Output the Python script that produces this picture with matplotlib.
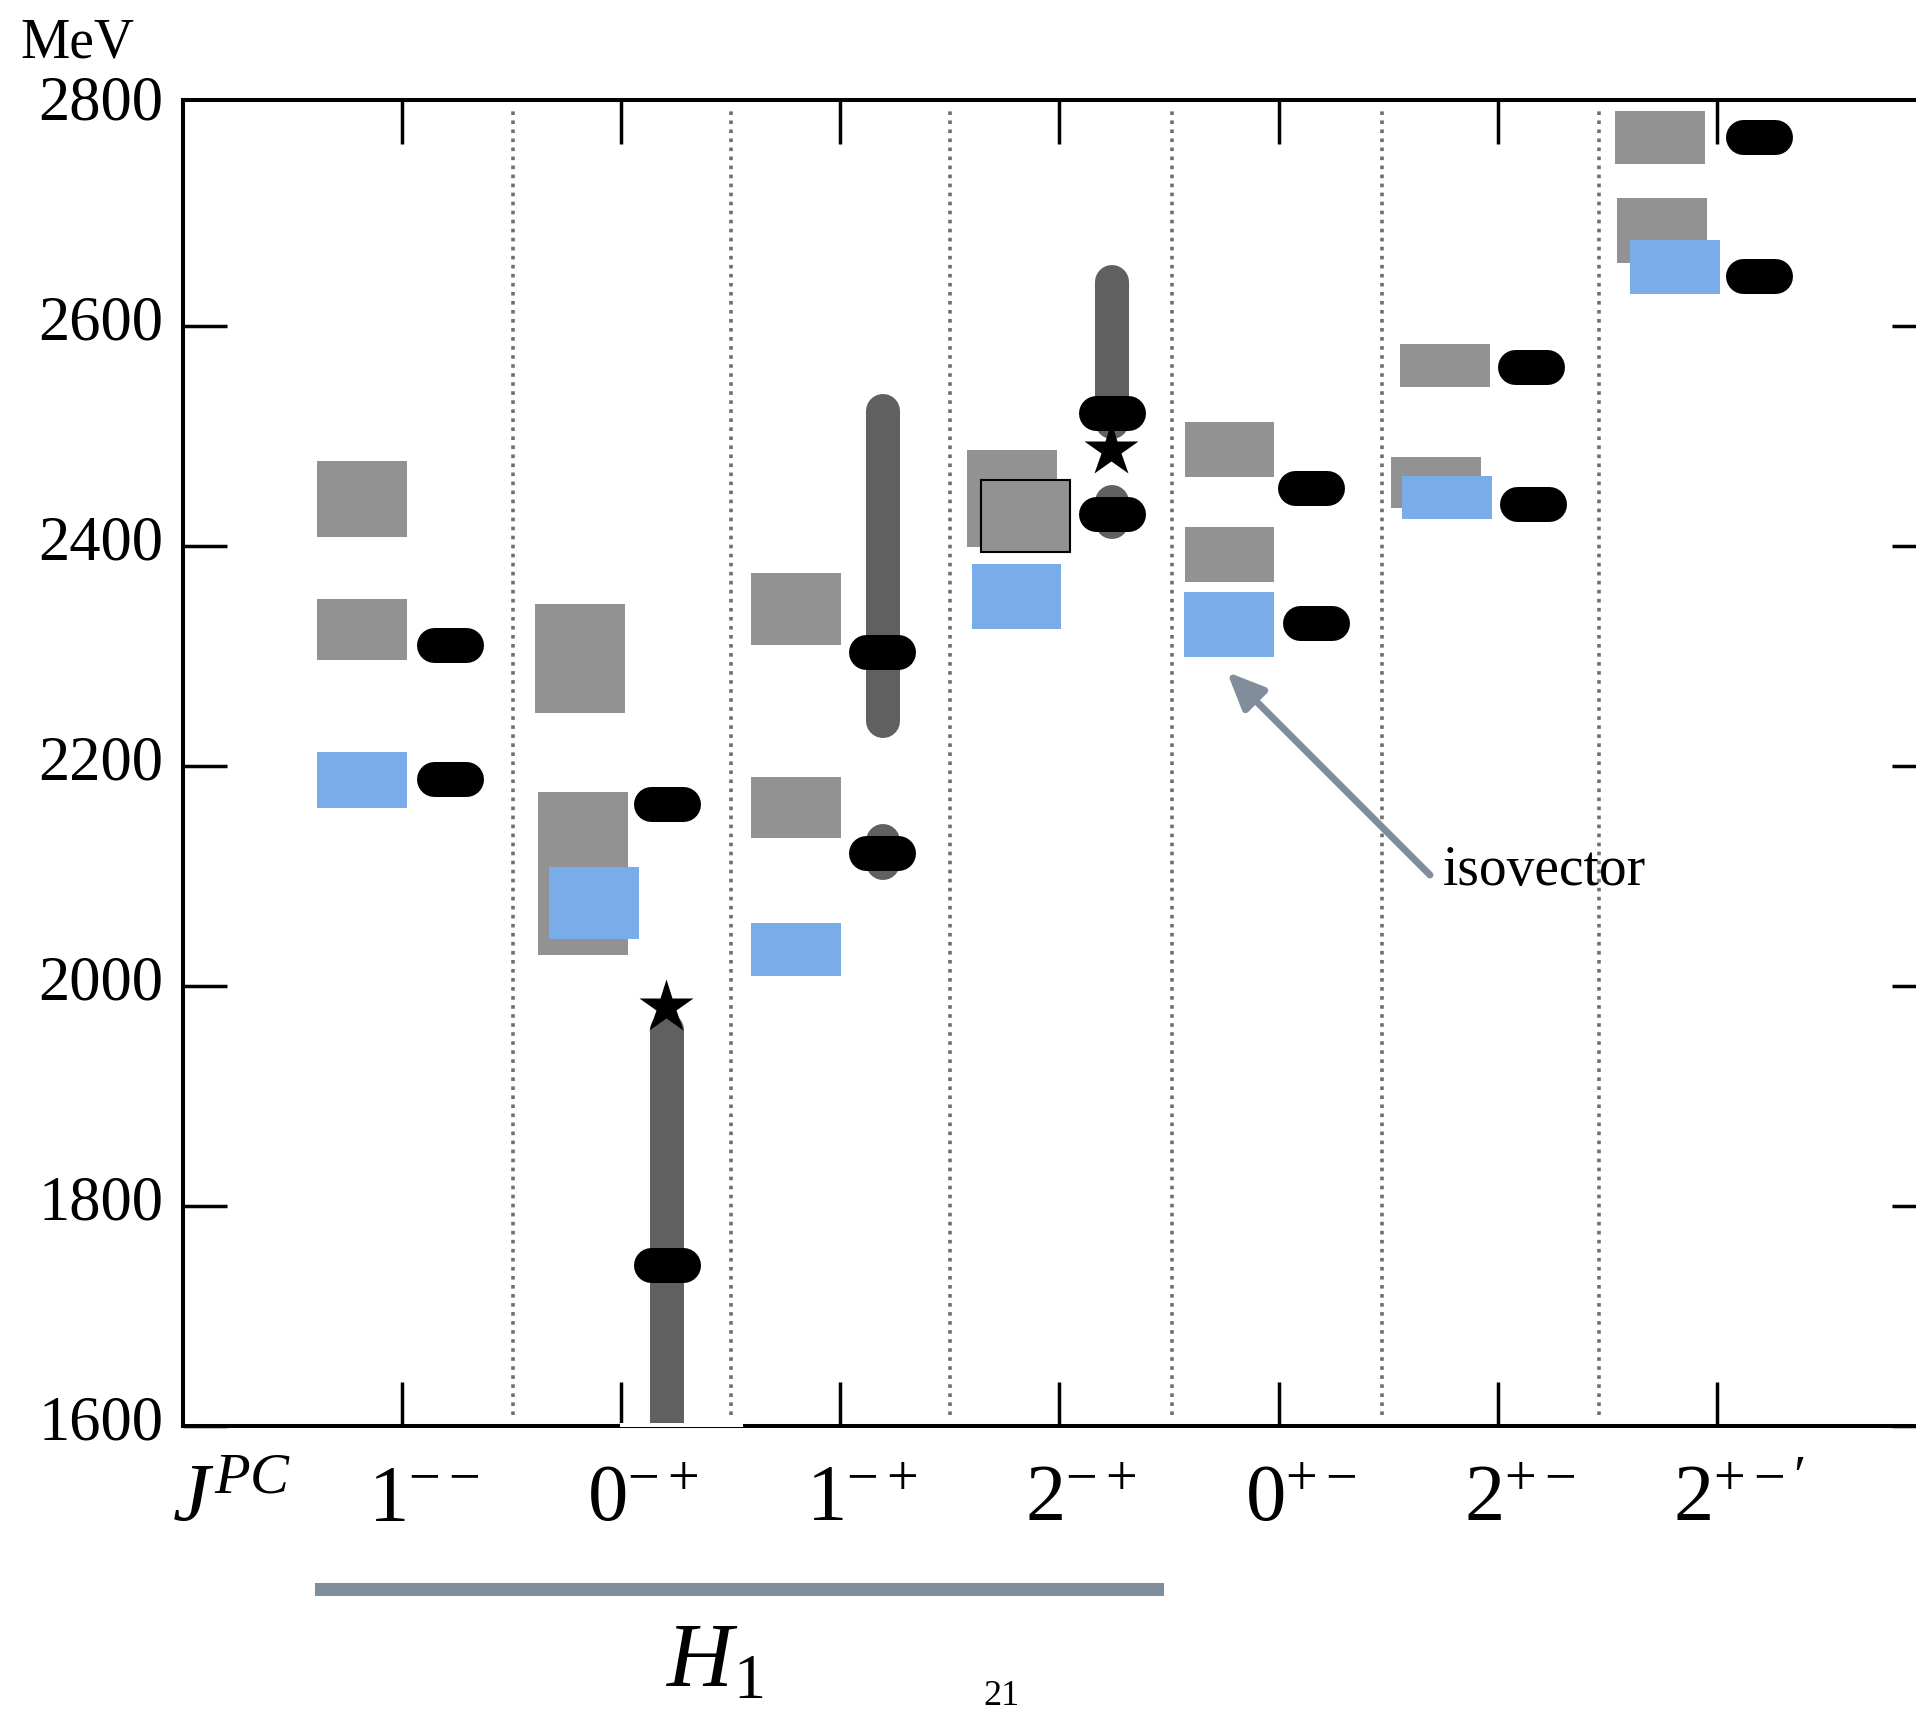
import matplotlib
matplotlib.use("Agg")
import matplotlib.pyplot as plt
from matplotlib.patches import Rectangle
from matplotlib.transforms import blended_transform_factory, ScaledTranslation

plt.rcParams['font.family'] = ['Liberation Serif', 'DejaVu Serif']
plt.rcParams['mathtext.fontset'] = 'custom'
plt.rcParams['mathtext.rm'] = 'Liberation Serif'
plt.rcParams['mathtext.it'] = 'Liberation Serif:italic'
plt.rcParams['mathtext.bf'] = 'Liberation Serif:bold'

# J^PC channels
channels = [r'$1^{--}$', r'$0^{-+}$', r'$1^{-+}$', r'$2^{-+}$',
            r'$0^{+-}$', r'$2^{+-}$', r'$2^{+-\prime}$']

# gray boxes: column, low / high mass (MeV)
gray_col = [0, 0, 1, 1, 2, 2, 3, 4, 4, 5, 5, 6, 6]
gray_lo = [2408, 2296, 2248, 2028, 2310, 2134, 2399, 2462, 2367, 2544, 2434, 2747, 2657]
gray_hi = [2477, 2352, 2347, 2176, 2375, 2190, 2487, 2512, 2417, 2583, 2481, 2795, 2716]

# framed gray box (2-+)
framed_col = [3]
framed_lo = [2394]
framed_hi = [2460]

# blue boxes (isovector)
blue_col = [0, 1, 2, 3, 4, 5, 6]
blue_lo = [2162, 2043, 2009, 2324, 2299, 2424, 2629]
blue_hi = [2213, 2108, 2057, 2383, 2358, 2463, 2678]

# black markers
pill_col = [0, 0, 1, 1, 2, 2, 3, 3, 4, 4, 5, 5, 6, 6]
pill_m = [2310, 2188, 2165, 1746, 2303, 2121, 2521, 2429, 2452, 2330, 2562, 2438, 2771, 2645]

# dark vertical bars
bar_col = [1, 2, 2, 3, 3]
bar_lo = [1500, 2241, 2112, 2512, 2422]
bar_hi = [1960, 2522, 2132, 2640, 2440]

# stars
star_col = [1, 3]
star_m = [1981, 2487]

# layout offsets within each column (category units)
box_w = 0.41
gray_dx = [-0.388, -0.388, -0.392, -0.379, -0.406, -0.406, -0.420, -0.429, -0.429,
           -0.447, -0.488, -0.465, -0.456]
framed_dx = [-0.360]
blue_dx = [-0.388, -0.328, -0.406, -0.401, -0.433, -0.438, -0.397]
pill_dx = [0.217, 0.217, 0.210, 0.210, 0.189, 0.189, 0.240, 0.240, 0.148, 0.169,
           0.151, 0.162, 0.194, 0.194]
bar_dx = [0.210, 0.195, 0.195, 0.242, 0.242]
star_dx = [0.205, 0.237]
sep_x = [0.507, 1.501, 2.500, 3.513, 4.471, 5.461]

gray_c = '#929292'
blue_c = '#7aacec'
bar_c = '#606060'
slate = '#808e9b'

fig = plt.figure(figsize=(19.16, 17.13), dpi=100)
ax = fig.add_axes([0.0955, 0.1675, 0.9149, 0.7741])
ax.set_xlim(-1, 7)
ax.set_ylim(1600, 2805)

for x in sep_x:
    ax.vlines(x, 1610, 2797, colors='#6e6e6e', lw=2.6, linestyles=(0, (1, 1.5)), zorder=1)

for c, lo, hi, dx in zip(gray_col, gray_lo, gray_hi, gray_dx):
    ax.add_patch(Rectangle((c + dx, lo), box_w, hi - lo, facecolor=gray_c, edgecolor='none', zorder=2))
for c, lo, hi, dx in zip(framed_col, framed_lo, framed_hi, framed_dx):
    ax.add_patch(Rectangle((c + dx, lo), box_w, hi - lo, facecolor=gray_c, edgecolor='black',
                           lw=1.5, zorder=3))
for c, lo, hi, dx in zip(blue_col, blue_lo, blue_hi, blue_dx):
    ax.add_patch(Rectangle((c + dx, lo), box_w, hi - lo, facecolor=blue_c, edgecolor='none', zorder=3))

for c, lo, hi, dx in zip(bar_col, bar_lo, bar_hi, bar_dx):
    ax.plot([c + dx, c + dx], [lo, hi], color=bar_c, lw=24.5, solid_capstyle='round', zorder=4)

for c, m, dx in zip(pill_col, pill_m, pill_dx):
    ax.plot([c + dx - 0.073, c + dx + 0.073], [m, m], color='black', lw=25.2,
            solid_capstyle='round', zorder=5)

for c, m, dx in zip(star_col, star_m, star_dx):
    ax.plot(c + dx, m, marker='*', ms=41, color='black', mec='none', zorder=6)

# axes styling
for s in ax.spines.values():
    s.set_linewidth(2.9)
ax.set_xticks(range(len(channels)))
ax.set_xticklabels([])
ax.set_yticks([1600, 1800, 2000, 2200, 2400, 2600, 2800])
ax.tick_params(axis='both', direction='in', length=31.7, width=2.5, top=True, right=True)
ax.tick_params(axis='y', labelsize=45, pad=14)
top_tick = ax.yaxis.get_major_ticks()[-1]
top_tick.tick1line.set_visible(False)
top_tick.tick2line.set_visible(False)
# labels sit a little above their ticks
shift = ScaledTranslation(0, 6 / 72, fig.dpi_scale_trans)
for lbl in ax.get_yticklabels():
    lbl.set_transform(lbl.get_transform() + shift)

# small gap in the bottom spine
ax.add_patch(Rectangle((0.995, 1599.2), 0.561, 3.8, facecolor='white', edgecolor='none',
                       clip_on=False, zorder=10))

# channel labels
tr = blended_transform_factory(ax.transData, fig.transFigure)
for i, lab in enumerate(channels):
    ax.text(i + 0.1, 0.1121, lab, transform=tr, ha='center', va='baseline', fontsize=58)
fig.text(232 / 1916, 0.1121, r'$J^{PC}$', ha='center', va='baseline', fontsize=60)

fig.text(20 / 1916, 1 - 58 / 1713, 'MeV', ha='left', va='baseline', fontsize=40)

# H1 bracket
fig.add_artist(Rectangle((315 / 1916, 1 - 1596 / 1713), 849 / 1916, 13 / 1713,
                         transform=fig.transFigure, facecolor=slate, edgecolor='none'))
fig.text(715 / 1916, 1 - 1686 / 1713, r'$H_1$', ha='center', va='baseline', fontsize=66)
fig.text(1001 / 1916, 1 - 1705 / 1713, '21', ha='center', va='baseline', fontsize=26)

# isovector annotation
fig.text(1443 / 1916, 1 - 885 / 1713, 'isovector', ha='left', va='baseline', fontsize=40)
ax.annotate('', xy=(1227, 1713 - 672), xycoords='figure pixels',
            xytext=(1430, 1713 - 875), textcoords='figure pixels',
            arrowprops=dict(arrowstyle='-|>,head_length=0.8,head_width=0.35',
                            mutation_scale=28, color=slate, lw=5, shrinkA=0, shrinkB=0))

fig.savefig('out.png', dpi=100)
